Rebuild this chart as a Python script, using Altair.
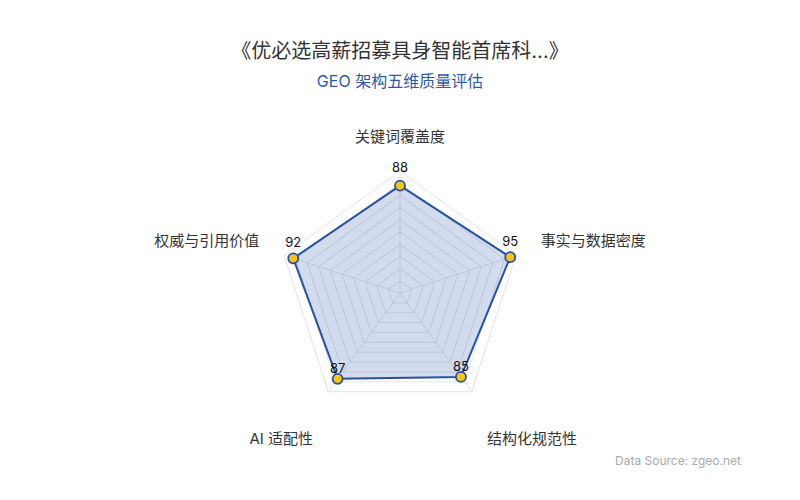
import math
import altair as alt
import pandas as pd

# ---- data ----
dims = ["关键词覆盖度", "事实与数据密度", "结构化规范性", "AI 适配性", "权威与引用价值"]
values = [88, 95, 85, 87, 92]
max_value = 100
ring_levels = [10, 20, 30, 40, 50, 60, 70, 80, 90, 100]

title_text = "《优必选高薪招募具身智能首席科...》"
subtitle_text = "GEO 架构五维质量评估"
source_text = "Data Source: zgeo.net"

# ---- geometry helpers (layout) ----
W, H = 784, 480
CX, CY = 392, 285          # centre in svg pixels
PX = 1.22                  # pixels per value unit
LABEL_R = 121.3            # axis-name radius in value units

xdom = [-CX / PX, (W - CX) / PX]
ydom = [(CY - H) / PX, CY / PX]

n = len(dims)
ang = [math.radians(90 - 360 / n * i) for i in range(n)]


def group_of(a):
    c, s = math.cos(a), math.sin(a)
    if abs(c) < 1e-6:
        return "top"
    if s < -0.5:
        return "bottom_r" if c > 0 else "bottom_l"
    return "right" if c > 0 else "left"


pts = pd.DataFrame({
    "dim": dims,
    "value": values,
    "idx": list(range(n)),
    "x": [v * math.cos(a) for v, a in zip(values, ang)],
    "y": [v * math.sin(a) for v, a in zip(values, ang)],
    "lx": [LABEL_R * math.cos(a) for a in ang],
    "ly": [LABEL_R * math.sin(a) for a in ang],
    "grp": [group_of(a) for a in ang],
})
poly = pd.concat([pts, pts.iloc[[0]].assign(idx=n)], ignore_index=True)

rings = pd.DataFrame([
    {"ring": lv, "k": k,
     "x": lv * math.cos(ang[k % n]), "y": lv * math.sin(ang[k % n])}
    for lv in ring_levels for k in range(n + 1)
])
spokes = pd.DataFrame({
    "x": [0.0] * n, "y": [0.0] * n,
    "x2": [max_value * math.cos(a) for a in ang],
    "y2": [max_value * math.sin(a) for a in ang],
})

X = lambda f="x": alt.X(f, type="quantitative", scale=alt.Scale(domain=xdom, nice=False, zero=False), axis=None)
Y = lambda f="y": alt.Y(f, type="quantitative", scale=alt.Scale(domain=ydom, nice=False, zero=False), axis=None)

FONT = "Inter, Noto Sans CJK SC, sans-serif"
BLUE = "#2552a3"

grid = alt.Chart(rings).mark_line(stroke="#e2e4e8", strokeWidth=1).encode(
    x=X(), y=Y(), detail="ring:N", order="k:Q")
spk = alt.Chart(spokes).mark_rule(stroke="#e2e4e8", strokeWidth=1).encode(
    x=X(), y=Y(), x2="x2:Q", y2="y2:Q")

area = alt.Chart(poly).mark_line(
    fill=BLUE, fillOpacity=0.2, stroke=BLUE, strokeWidth=2, strokeJoin="round"
).encode(x=X(), y=Y(), order="idx:Q")

dots = alt.Chart(pts).mark_point(
    filled=True, fill="#f5c518", stroke=BLUE, strokeWidth=1.8, size=100, opacity=1
).encode(x=X(), y=Y())

base_pts = alt.Chart(pts)


def name_layer(grp, align, baseline, dy):
    return base_pts.transform_filter(alt.datum.grp == grp).mark_text(
        align=align, baseline=baseline, dy=dy, font=FONT, fontSize=15, color="#333333"
    ).encode(x=X("lx"), y=Y("ly"), text="dim:N")


names = (
    name_layer("top", "center", "bottom", 0)
    + name_layer("right", "left", "bottom", 2)
    + name_layer("left", "right", "bottom", 2)
    + name_layer("bottom_r", "left", "middle", 26)
    + name_layer("bottom_l", "right", "middle", 26)
)


def val_layer(grps, dy):
    return base_pts.transform_filter(
        alt.FieldOneOfPredicate(field="grp", oneOf=grps)
    ).mark_text(
        align="center", baseline="middle", dy=dy, font=FONT, fontSize=13, color="#111111"
    ).encode(x=X(), y=Y(), text="value:Q")


vals = val_layer(["top"], -18) + val_layer(["left", "right"], -15) + val_layer(["bottom_l", "bottom_r"], -10)

title = alt.Chart(pd.DataFrame({"t": [title_text]})).mark_text(
    align="center", baseline="middle", font=FONT, fontSize=20, color="#333333"
).encode(x=alt.value(CX), y=alt.value(44), text="t:N")
subtitle = alt.Chart(pd.DataFrame({"t": [subtitle_text]})).mark_text(
    align="center", baseline="middle", font=FONT, fontSize=16, color="#2b5ba8"
).encode(x=alt.value(CX), y=alt.value(74), text="t:N")
source = alt.Chart(pd.DataFrame({"t": [source_text]})).mark_text(
    align="right", baseline="middle", font=FONT, fontSize=12, color="#aaaaaa"
).encode(x=alt.value(733), y=alt.value(453), text="t:N")

chart = alt.layer(
    grid, spk, area, dots, names, vals, title, subtitle, source
).properties(
    width=W, height=H, autosize="none", padding=0, background="white"
).configure_view(stroke=None)

chart.save("out.html", embed_options={"renderer": "svg", "actions": False})
